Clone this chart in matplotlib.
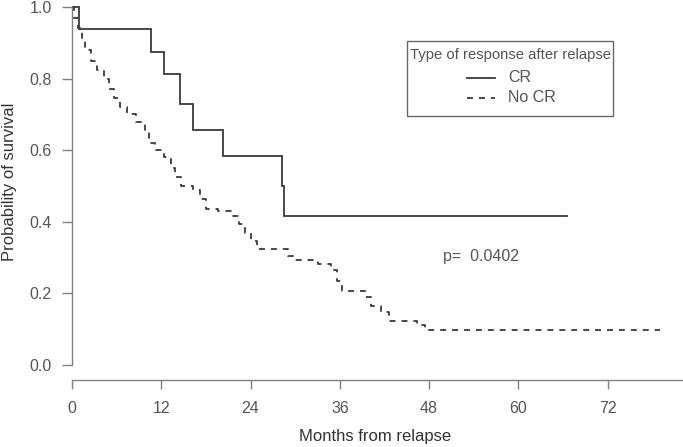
import matplotlib
matplotlib.use("Agg")
import matplotlib.pyplot as plt
from matplotlib.lines import Line2D
from matplotlib.patches import Rectangle

# ---- data ----
cr_times = [0.9, 10.6, 12.4, 14.5, 16.3, 20.3, 28.2, 28.5]
cr_surv = [0.9375, 0.875, 0.8125, 0.729, 0.656, 0.583, 0.50, 0.417]
cr_end = 66.5

nocr_times = [0.3, 0.8, 1.3, 1.8, 2.6, 3.4, 4.3, 5.0, 5.6, 6.4, 7.4, 8.6, 9.8,
              10.4, 11.2, 12.3, 13.3, 13.9, 14.6, 16.2, 17.2, 18.0, 19.6, 21.4,
              22.4, 23.2, 24.0, 24.8, 29.0, 29.8, 33.0, 34.8, 35.6, 36.3, 39.4,
              40.2, 41.5, 42.6, 46.4, 47.4]
nocr_surv = [0.97, 0.94, 0.91, 0.88, 0.85, 0.825, 0.80, 0.77, 0.745, 0.72, 0.70,
             0.68, 0.65, 0.62, 0.60, 0.58, 0.55, 0.525, 0.50, 0.49, 0.465, 0.437,
             0.429, 0.415, 0.393, 0.37, 0.345, 0.323, 0.305, 0.292, 0.281, 0.265,
             0.235, 0.206, 0.19, 0.165, 0.148, 0.122, 0.112, 0.097]
nocr_end = 79.0

x_ticks = [0, 12, 24, 36, 48, 60, 72]
y_ticks = [0.0, 0.2, 0.4, 0.6, 0.8, 1.0]
y_ticklabels = ["0.0", "0.2", "0.4", "0.6", "0.8", "1.0"]
legend_title = "Type of response after relapse"
legend_labels = ["CR", "No CR"]
p_text = "p=  0.0402"

plt.rcParams['font.family'] = ['Liberation Sans', 'DejaVu Sans']

W, H = 683, 447
fig = plt.figure(figsize=(W / 100, H / 100), dpi=100)
left_px, right_px, top_px, bot_px = 72, 683, 2, 380
y0_px, y1_px = 365, 7
ax = fig.add_axes([left_px / W, 1 - bot_px / H, (right_px - left_px) / W, (bot_px - top_px) / H])

ppm = 7.44
ppu = float(y0_px - y1_px)
ax.set_xlim(0, (right_px - left_px) / ppm)
ax.set_ylim(-(bot_px - y0_px) / ppu, 1 + (y1_px - top_px) / ppu)

line_col = '#3a3a3a'
cx = [0] + cr_times + [cr_end]
cy = [1.0] + cr_surv + [cr_surv[-1]]
ax.step(cx, cy, where='post', color=line_col, lw=1.3, solid_joinstyle='miter')

nx = [0] + nocr_times + [nocr_end]
ny = [1.0] + nocr_surv + [nocr_surv[-1]]
ax.step(nx, ny, where='post', color=line_col, lw=1.3, dashes=(3.3, 3.3))

# R-style axes
for s in ['top', 'right']:
    ax.spines[s].set_visible(False)
axis_col = '#808080'
ax.spines['left'].set_bounds(0, 1)
ax.spines['left'].set_color(axis_col)
ax.spines['bottom'].set_color(axis_col)
ax.spines['left'].set_linewidth(1.0)
ax.spines['bottom'].set_linewidth(1.0)

ax.set_xticks(x_ticks)
ax.set_xticklabels([str(t) for t in x_ticks])
ax.set_yticks(y_ticks)
ax.set_yticklabels(y_ticklabels)
ax.tick_params(axis='both', direction='out', width=1.0, color=axis_col,
               labelcolor='#555555', labelsize=11.5)
ax.tick_params(axis='x', length=6.5, pad=8.5)
ax.tick_params(axis='y', length=7.2, pad=7.5)

fig.text(375 / W, 1 - 437 / H, "Months from relapse", ha='center', va='center',
         fontsize=12, color='#333333')
fig.text(10 / W, 1 - 182 / H, "Probability of survival", ha='center', va='center',
         rotation=90, fontsize=12, color='#333333')

fig.text(443 / W, 1 - 257 / H, p_text, ha='left', va='center', fontsize=11.5,
         color='#555555')

# legend box (drawn manually to match the reference's layout)
lx0, lx1, ly0, ly1 = 407, 613, 41, 116
fig.patches.append(Rectangle((lx0 / W, 1 - ly1 / H), (lx1 - lx0) / W, (ly1 - ly0) / H,
                             transform=fig.transFigure, fill=False,
                             edgecolor='#666666', lw=1.0))
fig.text((lx0 + lx1) / 2 / W, 1 - 55 / H, legend_title, ha='center', va='center',
         fontsize=10.7, color='#555555')
for i, (lab, ls) in enumerate(zip(legend_labels, ['solid', 'dashed'])):
    yy = 1 - (78 + 20 * i) / H
    kw = dict(color=line_col, lw=1.3, transform=fig.transFigure)
    if ls == 'dashed':
        kw['dashes'] = (3.3, 3.3)
    fig.lines.append(Line2D([467 / W, 495 / W], [yy, yy], **kw))
    fig.text(508 / W, yy, lab, ha='left', va='center', fontsize=11.5, color='#555555')

fig.savefig("out.png", dpi=100)
